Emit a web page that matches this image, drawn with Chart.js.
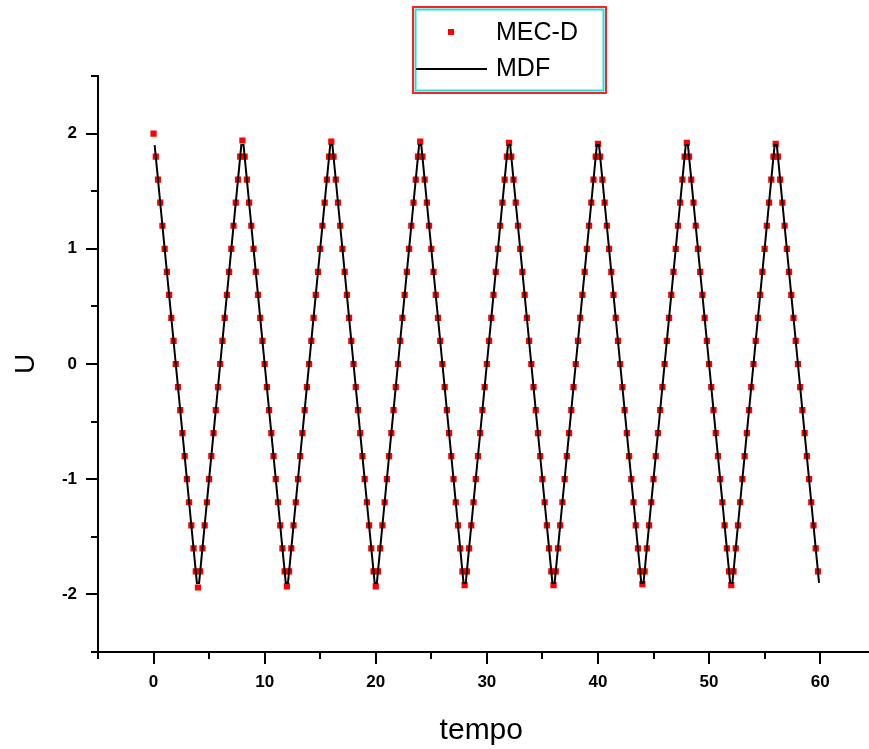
<!DOCTYPE html>
<html>
<head>
<meta charset="utf-8">
<script src="https://cdn.jsdelivr.net/npm/chart.js@4.4.1/dist/chart.umd.min.js"></script>
<style>
  html, body { margin: 0; padding: 0; background: #fff; }
  canvas { display: block; }
</style>
</head>
<body>
<canvas id="grafico" width="869" height="749"></canvas>
<script>
// tempo dos pontos MEC-D
const tempoMec = [
  0, 0.2, 0.4, 0.6, 0.8, 1, 1.2, 1.4, 1.6, 1.8, 2, 2.2, 2.4, 2.6, 2.8, 3, 3.2, 3.4, 3.6, 3.8,
  4, 4.2, 4.4, 4.6, 4.8, 5, 5.2, 5.4, 5.6, 5.8, 6, 6.2, 6.4, 6.6, 6.8, 7, 7.2, 7.4, 7.6, 7.8,
  8, 8.2, 8.4, 8.6, 8.8, 9, 9.2, 9.4, 9.6, 9.8, 10, 10.2, 10.4, 10.6, 10.8, 11, 11.2, 11.4, 11.6, 11.8,
  12, 12.2, 12.4, 12.6, 12.8, 13, 13.2, 13.4, 13.6, 13.8, 14, 14.2, 14.4, 14.6, 14.8, 15, 15.2, 15.4, 15.6, 15.8,
  16, 16.2, 16.4, 16.6, 16.8, 17, 17.2, 17.4, 17.6, 17.8, 18, 18.2, 18.4, 18.6, 18.8, 19, 19.2, 19.4, 19.6, 19.8,
  20, 20.2, 20.4, 20.6, 20.8, 21, 21.2, 21.4, 21.6, 21.8, 22, 22.2, 22.4, 22.6, 22.8, 23, 23.2, 23.4, 23.6, 23.8,
  24, 24.2, 24.4, 24.6, 24.8, 25, 25.2, 25.4, 25.6, 25.8, 26, 26.2, 26.4, 26.6, 26.8, 27, 27.2, 27.4, 27.6, 27.8,
  28, 28.2, 28.4, 28.6, 28.8, 29, 29.2, 29.4, 29.6, 29.8, 30, 30.2, 30.4, 30.6, 30.8, 31, 31.2, 31.4, 31.6, 31.8,
  32, 32.2, 32.4, 32.6, 32.8, 33, 33.2, 33.4, 33.6, 33.8, 34, 34.2, 34.4, 34.6, 34.8, 35, 35.2, 35.4, 35.6, 35.8,
  36, 36.2, 36.4, 36.6, 36.8, 37, 37.2, 37.4, 37.6, 37.8, 38, 38.2, 38.4, 38.6, 38.8, 39, 39.2, 39.4, 39.6, 39.8,
  40, 40.2, 40.4, 40.6, 40.8, 41, 41.2, 41.4, 41.6, 41.8, 42, 42.2, 42.4, 42.6, 42.8, 43, 43.2, 43.4, 43.6, 43.8,
  44, 44.2, 44.4, 44.6, 44.8, 45, 45.2, 45.4, 45.6, 45.8, 46, 46.2, 46.4, 46.6, 46.8, 47, 47.2, 47.4, 47.6, 47.8,
  48, 48.2, 48.4, 48.6, 48.8, 49, 49.2, 49.4, 49.6, 49.8, 50, 50.2, 50.4, 50.6, 50.8, 51, 51.2, 51.4, 51.6, 51.8,
  52, 52.2, 52.4, 52.6, 52.8, 53, 53.2, 53.4, 53.6, 53.8, 54, 54.2, 54.4, 54.6, 54.8, 55, 55.2, 55.4, 55.6, 55.8,
  56, 56.2, 56.4, 56.6, 56.8, 57, 57.2, 57.4, 57.6, 57.8, 58, 58.2, 58.4, 58.6, 58.8, 59, 59.2, 59.4, 59.6, 59.8
];

// solução MEC-D
const uMec = [
  2, 1.8, 1.6, 1.4, 1.2, 1, 0.8, 0.6, 0.4, 0.2, 0, -0.2, -0.4, -0.6, -0.8, -1, -1.2, -1.4, -1.6, -1.8,
  -1.94, -1.8, -1.6, -1.4, -1.2, -1, -0.8, -0.6, -0.4, -0.2, 0, 0.2, 0.4, 0.6, 0.8, 1, 1.2, 1.4, 1.6, 1.8,
  1.94, 1.8, 1.6, 1.4, 1.2, 1, 0.8, 0.6, 0.4, 0.2, 0, -0.2, -0.4, -0.6, -0.8, -1, -1.2, -1.4, -1.6, -1.8,
  -1.93, -1.8, -1.6, -1.4, -1.2, -1, -0.8, -0.6, -0.4, -0.2, 0, 0.2, 0.4, 0.6, 0.8, 1, 1.2, 1.4, 1.6, 1.8,
  1.93, 1.8, 1.6, 1.4, 1.2, 1, 0.8, 0.6, 0.4, 0.2, 0, -0.2, -0.4, -0.6, -0.8, -1, -1.2, -1.4, -1.6, -1.8,
  -1.93, -1.8, -1.6, -1.4, -1.2, -1, -0.8, -0.6, -0.4, -0.2, 0, 0.2, 0.4, 0.6, 0.8, 1, 1.2, 1.4, 1.6, 1.8,
  1.93, 1.8, 1.6, 1.4, 1.2, 1, 0.8, 0.6, 0.4, 0.2, 0, -0.2, -0.4, -0.6, -0.8, -1, -1.2, -1.4, -1.6, -1.8,
  -1.92, -1.8, -1.6, -1.4, -1.2, -1, -0.8, -0.6, -0.4, -0.2, 0, 0.2, 0.4, 0.6, 0.8, 1, 1.2, 1.4, 1.6, 1.8,
  1.92, 1.8, 1.6, 1.4, 1.2, 1, 0.8, 0.6, 0.4, 0.2, 0, -0.2, -0.4, -0.6, -0.8, -1, -1.2, -1.4, -1.6, -1.8,
  -1.92, -1.8, -1.6, -1.4, -1.2, -1, -0.8, -0.6, -0.4, -0.2, 0, 0.2, 0.4, 0.6, 0.8, 1, 1.2, 1.4, 1.6, 1.8,
  1.91, 1.8, 1.6, 1.4, 1.2, 1, 0.8, 0.6, 0.4, 0.2, 0, -0.2, -0.4, -0.6, -0.8, -1, -1.2, -1.4, -1.6, -1.8,
  -1.91, -1.8, -1.6, -1.4, -1.2, -1, -0.8, -0.6, -0.4, -0.2, 0, 0.2, 0.4, 0.6, 0.8, 1, 1.2, 1.4, 1.6, 1.8,
  1.92, 1.8, 1.6, 1.4, 1.2, 1, 0.8, 0.6, 0.4, 0.2, 0, -0.2, -0.4, -0.6, -0.8, -1, -1.2, -1.4, -1.6, -1.8,
  -1.92, -1.8, -1.6, -1.4, -1.2, -1, -0.8, -0.6, -0.4, -0.2, 0, 0.2, 0.4, 0.6, 0.8, 1, 1.2, 1.4, 1.6, 1.8,
  1.91, 1.8, 1.6, 1.4, 1.2, 1, 0.8, 0.6, 0.4, 0.2, 0, -0.2, -0.4, -0.6, -0.8, -1, -1.2, -1.4, -1.6, -1.8
];

// tempo da solução MDF (meio passo deslocado)
const tempoMdf = [
  0.1, 0.3, 0.5, 0.7, 0.9, 1.1, 1.3, 1.5, 1.7, 1.9, 2.1, 2.3, 2.5, 2.7, 2.9, 3.1, 3.3, 3.5, 3.7, 3.9,
  4.1, 4.3, 4.5, 4.7, 4.9, 5.1, 5.3, 5.5, 5.7, 5.9, 6.1, 6.3, 6.5, 6.7, 6.9, 7.1, 7.3, 7.5, 7.7, 7.9,
  8.1, 8.3, 8.5, 8.7, 8.9, 9.1, 9.3, 9.5, 9.7, 9.9, 10.1, 10.3, 10.5, 10.7, 10.9, 11.1, 11.3, 11.5, 11.7, 11.9,
  12.1, 12.3, 12.5, 12.7, 12.9, 13.1, 13.3, 13.5, 13.7, 13.9, 14.1, 14.3, 14.5, 14.7, 14.9, 15.1, 15.3, 15.5, 15.7, 15.9,
  16.1, 16.3, 16.5, 16.7, 16.9, 17.1, 17.3, 17.5, 17.7, 17.9, 18.1, 18.3, 18.5, 18.7, 18.9, 19.1, 19.3, 19.5, 19.7, 19.9,
  20.1, 20.3, 20.5, 20.7, 20.9, 21.1, 21.3, 21.5, 21.7, 21.9, 22.1, 22.3, 22.5, 22.7, 22.9, 23.1, 23.3, 23.5, 23.7, 23.9,
  24.1, 24.3, 24.5, 24.7, 24.9, 25.1, 25.3, 25.5, 25.7, 25.9, 26.1, 26.3, 26.5, 26.7, 26.9, 27.1, 27.3, 27.5, 27.7, 27.9,
  28.1, 28.3, 28.5, 28.7, 28.9, 29.1, 29.3, 29.5, 29.7, 29.9, 30.1, 30.3, 30.5, 30.7, 30.9, 31.1, 31.3, 31.5, 31.7, 31.9,
  32.1, 32.3, 32.5, 32.7, 32.9, 33.1, 33.3, 33.5, 33.7, 33.9, 34.1, 34.3, 34.5, 34.7, 34.9, 35.1, 35.3, 35.5, 35.7, 35.9,
  36.1, 36.3, 36.5, 36.7, 36.9, 37.1, 37.3, 37.5, 37.7, 37.9, 38.1, 38.3, 38.5, 38.7, 38.9, 39.1, 39.3, 39.5, 39.7, 39.9,
  40.1, 40.3, 40.5, 40.7, 40.9, 41.1, 41.3, 41.5, 41.7, 41.9, 42.1, 42.3, 42.5, 42.7, 42.9, 43.1, 43.3, 43.5, 43.7, 43.9,
  44.1, 44.3, 44.5, 44.7, 44.9, 45.1, 45.3, 45.5, 45.7, 45.9, 46.1, 46.3, 46.5, 46.7, 46.9, 47.1, 47.3, 47.5, 47.7, 47.9,
  48.1, 48.3, 48.5, 48.7, 48.9, 49.1, 49.3, 49.5, 49.7, 49.9, 50.1, 50.3, 50.5, 50.7, 50.9, 51.1, 51.3, 51.5, 51.7, 51.9,
  52.1, 52.3, 52.5, 52.7, 52.9, 53.1, 53.3, 53.5, 53.7, 53.9, 54.1, 54.3, 54.5, 54.7, 54.9, 55.1, 55.3, 55.5, 55.7, 55.9,
  56.1, 56.3, 56.5, 56.7, 56.9, 57.1, 57.3, 57.5, 57.7, 57.9, 58.1, 58.3, 58.5, 58.7, 58.9, 59.1, 59.3, 59.5, 59.7, 59.9
];

// solução MDF
const uMdf = [
  1.9, 1.7, 1.5, 1.3, 1.1, 0.9, 0.7, 0.5, 0.3, 0.1, -0.1, -0.3, -0.5, -0.7, -0.9, -1.1, -1.3, -1.5, -1.7, -1.9,
  -1.9, -1.7, -1.5, -1.3, -1.1, -0.9, -0.7, -0.5, -0.3, -0.1, 0.1, 0.3, 0.5, 0.7, 0.9, 1.1, 1.3, 1.5, 1.7, 1.9,
  1.9, 1.7, 1.5, 1.3, 1.1, 0.9, 0.7, 0.5, 0.3, 0.1, -0.1, -0.3, -0.5, -0.7, -0.9, -1.1, -1.3, -1.5, -1.7, -1.9,
  -1.9, -1.7, -1.5, -1.3, -1.1, -0.9, -0.7, -0.5, -0.3, -0.1, 0.1, 0.3, 0.5, 0.7, 0.9, 1.1, 1.3, 1.5, 1.7, 1.9,
  1.9, 1.7, 1.5, 1.3, 1.1, 0.9, 0.7, 0.5, 0.3, 0.1, -0.1, -0.3, -0.5, -0.7, -0.9, -1.1, -1.3, -1.5, -1.7, -1.9,
  -1.9, -1.7, -1.5, -1.3, -1.1, -0.9, -0.7, -0.5, -0.3, -0.1, 0.1, 0.3, 0.5, 0.7, 0.9, 1.1, 1.3, 1.5, 1.7, 1.9,
  1.9, 1.7, 1.5, 1.3, 1.1, 0.9, 0.7, 0.5, 0.3, 0.1, -0.1, -0.3, -0.5, -0.7, -0.9, -1.1, -1.3, -1.5, -1.7, -1.9,
  -1.9, -1.7, -1.5, -1.3, -1.1, -0.9, -0.7, -0.5, -0.3, -0.1, 0.1, 0.3, 0.5, 0.7, 0.9, 1.1, 1.3, 1.5, 1.7, 1.9,
  1.9, 1.7, 1.5, 1.3, 1.1, 0.9, 0.7, 0.5, 0.3, 0.1, -0.1, -0.3, -0.5, -0.7, -0.9, -1.1, -1.3, -1.5, -1.7, -1.9,
  -1.9, -1.7, -1.5, -1.3, -1.1, -0.9, -0.7, -0.5, -0.3, -0.1, 0.1, 0.3, 0.5, 0.7, 0.9, 1.1, 1.3, 1.5, 1.7, 1.9,
  1.9, 1.7, 1.5, 1.3, 1.1, 0.9, 0.7, 0.5, 0.3, 0.1, -0.1, -0.3, -0.5, -0.7, -0.9, -1.1, -1.3, -1.5, -1.7, -1.9,
  -1.9, -1.7, -1.5, -1.3, -1.1, -0.9, -0.7, -0.5, -0.3, -0.1, 0.1, 0.3, 0.5, 0.7, 0.9, 1.1, 1.3, 1.5, 1.7, 1.9,
  1.9, 1.7, 1.5, 1.3, 1.1, 0.9, 0.7, 0.5, 0.3, 0.1, -0.1, -0.3, -0.5, -0.7, -0.9, -1.1, -1.3, -1.5, -1.7, -1.9,
  -1.9, -1.7, -1.5, -1.3, -1.1, -0.9, -0.7, -0.5, -0.3, -0.1, 0.1, 0.3, 0.5, 0.7, 0.9, 1.1, 1.3, 1.5, 1.7, 1.9,
  1.9, 1.7, 1.5, 1.3, 1.1, 0.9, 0.7, 0.5, 0.3, 0.1, -0.1, -0.3, -0.5, -0.7, -0.9, -1.1, -1.3, -1.5, -1.7, -1.9
];

// rótulos e marcas dos eixos
const rotulosX = [0, 10, 20, 30, 40, 50, 60];
const rotulosY = [-2, -1, 0, 1, 2];
const marcasX = [-5, 0, 5, 10, 15, 20, 25, 30, 35, 40, 45, 50, 55, 60];
const marcasY = [-2.5, -2, -1.5, -1, -0.5, 0, 0.5, 1, 1.5, 2, 2.5];

const fonte = "'Liberation Sans', Arial, sans-serif";

// marcas dos eixos (maiores nos valores rotulados) e a legenda com moldura dupla
const desenhoExtra = {
  id: 'desenhoExtra',
  afterDraw(chart) {
    const ctx = chart.ctx;
    const sx = chart.scales.x, sy = chart.scales.y;
    const area = chart.chartArea;
    ctx.save();
    ctx.strokeStyle = '#000';
    ctx.lineWidth = 2;
    ctx.beginPath();
    // eixo x prolongado até a borda direita
    ctx.moveTo(area.right, area.bottom);
    ctx.lineTo(chart.width, area.bottom);
    marcasX.forEach(v => {
      const px = Math.round(sx.getPixelForValue(v));
      const len = rotulosX.includes(v) ? 12 : 7;
      ctx.moveTo(px, area.bottom);
      ctx.lineTo(px, area.bottom + len);
    });
    marcasY.forEach(v => {
      const py = Math.round(sy.getPixelForValue(v));
      const len = rotulosY.includes(v) ? 12 : 7;
      ctx.moveTo(area.left, py);
      ctx.lineTo(area.left - len, py);
    });
    ctx.stroke();

    // legenda
    ctx.lineWidth = 2;
    ctx.strokeStyle = '#ff2020';
    ctx.strokeRect(413, 7, 193, 86);
    ctx.strokeStyle = '#20e0e0';
    ctx.strokeRect(415.5, 9.5, 188, 81);

    const mec = chart.data.datasets[0];
    const mdf = chart.data.datasets[1];
    ctx.fillStyle = mec.backgroundColor;
    ctx.fillRect(448, 29, 6, 6);
    ctx.strokeStyle = mdf.borderColor;
    ctx.lineWidth = 2;
    ctx.beginPath();
    ctx.moveTo(416, 69);
    ctx.lineTo(487, 69);
    ctx.stroke();

    ctx.fillStyle = '#000';
    ctx.font = '25px ' + fonte;
    ctx.textBaseline = 'middle';
    ctx.textAlign = 'left';
    ctx.fillText(mec.label, 496, 33);
    ctx.fillText(mdf.label, 496, 69);
    ctx.restore();
  }
};

new Chart(document.getElementById('grafico'), {
  type: 'scatter',
  data: {
    datasets: [
      {
        label: 'MEC-D',
        data: tempoMec.map((t, i) => ({ x: t, y: uMec[i] })),
        showLine: false,
        pointStyle: 'rect',
        pointRadius: 4.4,
        pointBorderWidth: 0,
        backgroundColor: '#ff0000',
        borderColor: '#ff0000',
        order: 1
      },
      {
        label: 'MDF',
        data: tempoMdf.map((t, i) => ({ x: t, y: uMdf[i] })),
        showLine: true,
        pointRadius: 0,
        borderColor: '#000000',
        borderWidth: 2,
        tension: 0,
        order: 0
      }
    ]
  },
  options: {
    responsive: false,
    animation: false,
    layout: { padding: { top: 76, right: 0, left: 0, bottom: 0 } },
    plugins: {
      legend: { display: false },
      tooltip: { enabled: false }
    },
    scales: {
      x: {
        type: 'linear',
        min: -5,
        max: 64,
        afterFit(scale) { scale.height = 97; },
        afterBuildTicks(scale) { scale.ticks = rotulosX.map(v => ({ value: v })); },
        grid: { display: false, drawTicks: false },
        border: { display: true, color: '#000', width: 2 },
        ticks: {
          autoSkip: false,
          maxRotation: 0,
          padding: 20,
          color: '#000',
          font: { family: fonte, size: 17, weight: 'bold' },
          callback: v => String(v)
        },
        title: {
          display: true,
          text: 'tempo',
          color: '#000',
          font: { family: fonte, size: 30 },
          padding: 0
        }
      },
      y: {
        type: 'linear',
        min: -2.5,
        max: 2.5,
        afterFit(scale) { scale.width = 98; },
        afterBuildTicks(scale) { scale.ticks = rotulosY.map(v => ({ value: v })); },
        grid: { display: false, drawTicks: false },
        border: { display: true, color: '#000', width: 2 },
        ticks: {
          autoSkip: false,
          padding: 21,
          color: '#000',
          font: { family: fonte, size: 17, weight: 'bold' },
          callback: v => String(v)
        },
        title: {
          display: true,
          text: 'U',
          color: '#000',
          font: { family: fonte, size: 28, lineHeight: 1.9 },
          padding: 0
        }
      }
    }
  },
  plugins: [desenhoExtra]
});
</script>
</body>
</html>
